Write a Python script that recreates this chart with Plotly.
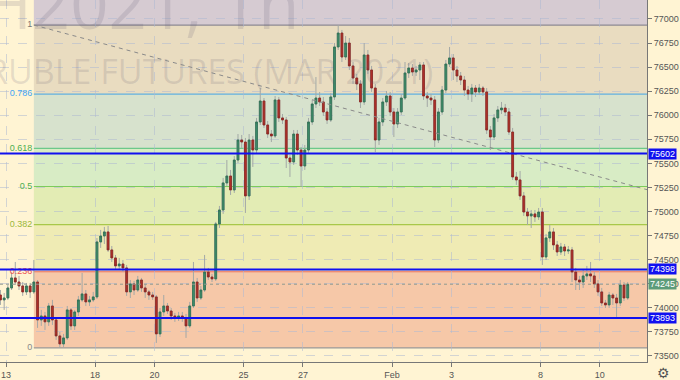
import plotly.graph_objects as go

# ---------------- data ----------------
candles_per_day = 8
first_index = -2  # two last candles of Jan 12

open_ = [74133, 74082, 74102, 74206, 74310, 74268, 74227, 74165, 74227, 74165,
         74268, 73874, 73915, 73854, 74019, 73874, 73708, 73625,
         73687, 73978, 73812, 73957, 74082, 74144, 74061, 74082,
         74113, 74684, 74746, 74788, 74601, 74518, 74435, 74455,
         74414, 74165, 74248, 74185, 74289, 74206, 74165, 74133,
         74113, 73729, 73957, 74019, 73967, 73915, 73895, 73915,
         73895, 73812, 74019, 74268, 74102, 74185, 74372, 74320,
         74300, 74871, 75016, 75297, 75369, 75224, 75535, 75743,
         75722, 75162, 75743, 75639, 75930, 76148, 75899, 75805,
         75785, 76159, 75972, 75951, 75556, 75515, 75805, 75639,
         75473, 75639, 75930, 76117, 76179, 76138, 76034, 75951,
         76190, 76709, 76854, 76605, 76750, 76512, 76387, 76325,
         76138, 76626, 76470, 76283, 75743, 75930, 76138, 76200,
         76034, 75909, 76034, 76179, 76439, 76491, 76449, 76470,
         76522, 76200, 76179, 76159, 75743, 76034, 76262, 76532,
         76595, 76470, 76408, 76366, 76262, 76221, 76283, 76242,
         76283, 76242, 75847, 75774, 75972, 76055, 76075, 76034,
         75826, 75359, 75328, 75162, 74995, 74954, 74975, 74944,
         74995, 74528, 74726, 74788, 74653, 74580, 74632, 74590,
         74601, 74372, 74289, 74268, 74331, 74352, 74331, 74248,
         74165, 74050, 74030, 74133, 74102, 74050, 74237, 74102]

high = [74185, 74154, 74237, 74372, 74476, 74331, 74268, 74258, 74258, 74497,
        74289, 73978, 73957, 74050, 74082, 73895, 73749, 73729,
        74019, 73998, 73978, 74123, 74362, 74185, 74123, 74165,
        74725, 74809, 74840, 74850, 74642, 74549, 74518, 74497,
        74445, 74289, 74279, 74331, 74310, 74248, 74185, 74165,
        74133, 73998, 74133, 74050, 73998, 73947, 73957, 73957,
        73936, 74061, 74476, 74310, 74227, 74549, 74414, 74352,
        74892, 75058, 75349, 75535, 75432, 75577, 75805, 75795,
        75764, 75805, 75785, 75972, 76283, 76179, 75940, 75847,
        76200, 76190, 76013, 75982, 75587, 75847, 75847, 75670,
        75691, 75972, 76159, 76397, 76242, 76190, 76075, 76231,
        76750, 76937, 76886, 76823, 76802, 76553, 76429, 76366,
        76750, 76678, 76512, 76325, 75972, 76179, 76252, 76242,
        76075, 76075, 76221, 76553, 76543, 76532, 76512, 76553,
        76553, 76242, 76221, 76200, 76075, 76304, 76574, 76709,
        76636, 76512, 76449, 76408, 76304, 76325, 76314, 76325,
        76304, 76283, 75888, 76013, 76096, 76138, 76117, 76075,
        75868, 75411, 75421, 75203, 75037, 75016, 75016, 75037,
        75037, 74767, 74860, 74829, 74694, 74674, 74663, 74642,
        74632, 74414, 74331, 74393, 74435, 74476, 74372, 74289,
        74206, 74082, 74165, 74154, 74144, 74289, 74268, 74268]

low = [74030, 73978, 74082, 74185, 74237, 74185, 74123, 74133, 74102, 74144,
       73791, 73812, 73770, 73812, 73822, 73666, 73583, 73593,
       73666, 73770, 73770, 73915, 74061, 74019, 74019, 74061,
       74092, 74622, 74663, 74580, 74476, 74393, 74393, 74372,
       74123, 74102, 74133, 74165, 74165, 74102, 74082, 74082,
       73635, 73697, 73915, 73936, 73874, 73854, 73863, 73854,
       73687, 73791, 73998, 74061, 74082, 74165, 74289, 74268,
       74279, 74829, 74975, 75265, 75172, 75193, 75504, 75660,
       74985, 75120, 75463, 75608, 75899, 75868, 75764, 75722,
       75764, 75930, 75909, 75452, 75359, 75484, 75587, 75255,
       75432, 75608, 75899, 76075, 76096, 75992, 75909, 75930,
       76159, 76678, 76553, 76574, 76470, 76325, 76262, 76075,
       76107, 76429, 76242, 75618, 75691, 75888, 76096, 75992,
       75774, 75868, 76003, 76159, 76387, 76408, 76408, 76366,
       76159, 76086, 76107, 75670, 75712, 76003, 76231, 76501,
       76366, 76345, 76314, 76200, 76159, 76138, 76190, 76210,
       76200, 75805, 75639, 75743, 75930, 76013, 75992, 75795,
       75328, 75276, 75120, 74954, 74860, 74829, 74892, 74912,
       74445, 74497, 74684, 74601, 74538, 74549, 74538, 74559,
       74268, 74185, 74185, 74206, 74289, 74268, 74206, 74123,
       74019, 73998, 73998, 74030, 73905, 74019, 74071, 74082]

close = [74082, 74102, 74206, 74310, 74268, 74227, 74165, 74227, 74165, 74268,
         73874, 73915, 73854, 74019, 73874, 73708, 73625, 73687,
         73978, 73812, 73957, 74082, 74144, 74061, 74082, 74113,
         74684, 74746, 74788, 74601, 74518, 74435, 74455, 74414,
         74165, 74248, 74185, 74289, 74206, 74165, 74133, 74113,
         73729, 73957, 74019, 73967, 73915, 73895, 73915, 73895,
         73812, 74019, 74268, 74102, 74185, 74372, 74320, 74300,
         74871, 75016, 75297, 75369, 75224, 75535, 75743, 75722,
         75162, 75743, 75639, 75930, 76148, 75899, 75805, 75785,
         76159, 75972, 75951, 75556, 75515, 75805, 75639, 75473,
         75639, 75930, 76117, 76179, 76138, 76034, 75951, 76190,
         76709, 76854, 76605, 76750, 76512, 76387, 76325, 76138,
         76626, 76470, 76283, 75743, 75930, 76138, 76200, 76034,
         75909, 76034, 76179, 76439, 76491, 76449, 76470, 76522,
         76200, 76179, 76159, 75743, 76034, 76262, 76532, 76595,
         76470, 76408, 76366, 76262, 76221, 76283, 76242, 76283,
         76242, 75847, 75774, 75972, 76055, 76075, 76034, 75826,
         75359, 75328, 75162, 74995, 74954, 74975, 74944, 74995,
         74528, 74726, 74788, 74653, 74580, 74632, 74590, 74601,
         74372, 74289, 74268, 74331, 74352, 74331, 74248, 74165,
         74050, 74030, 74133, 74102, 74050, 74237, 74102, 74245]

tick_days = [0, 3, 5, 8, 10, 13, 15, 18, 20]
tick_labels = ["13", "18", "20", "25", "27", "Feb", "3", "8", "10"]
price_ticks = [73500, 73750, 74000, 74250, 74500, 74750, 75000, 75250,
               75500, 75750, 76000, 76250, 76500, 76750, 77000]

fib_levels = [0, 0.236, 0.382, 0.5, 0.618, 0.786, 1, 1.618]
fib_labels = ["0", "0.236", "0.382", "0.5", "0.618", "0.786", "1", ""]
fib_start = 7
blue_levels = [75602, 74398, 73893]
last_price = 74245
trend_x = [7, 172.2]
trend_y = [76937, 75227]

x_range = [-2.12, 172.2]
y_range = [73437, 77197]

# ---------------- styling ----------------
bg = "#fff4d3"
band_colors = ["#f6c8a8", "#efebb4", "#e3ecb4", "#d8ecc5", "#d7e2cd", "#e9dcc0", "#d6cbd2"]
level_colors = ["#9a9a9a", "#ec6e5c", "#a8c84a", "#7ccc5c", "#6cc98a", "#5fb0e0", "#8c8a94", "#8c8a94"]
label_colors = ["#8a8a8a", "#ef5350", "#9bb83a", "#4caf50", "#4caf50", "#42a5f5", "#777777", "#777777"]
up_col, down_col = "#3f8f6c", "#b3322a"
wick_col = "#a3a8a6"
font_family = "Liberation Sans"

xs = list(range(first_index, first_index + len(close)))
fib_low, fib_high = min(low), max(high)
fib_prices = [fib_low + f * (fib_high - fib_low) for f in fib_levels]

fig = go.Figure()

# watermark (behind candles)
fig.add_trace(go.Scatter(x=[78.5], y=[77065], mode="text", text=["SiH2021, 1h"],
                         textposition="middle left",
                         textfont=dict(size=67, color="rgba(95,90,115,0.16)", family="Open Sans"),
                         hoverinfo="skip", showlegend=False))
fig.add_trace(go.Scatter(x=[54.5], y=[76408], mode="text", text=["RUBLE FUTURES (MAR 2021)"],
                         textposition="middle center",
                         textfont=dict(size=34, color="rgba(95,90,115,0.16)", family="Open Sans"),
                         hoverinfo="skip", showlegend=False))

# fib labels
for lvl, lab, col, p in zip(fib_levels, fib_labels, label_colors, fib_prices):
    if lab:
        fig.add_trace(go.Scatter(x=[fib_start - 0.4], y=[p], mode="text", text=[lab],
                                 textposition="middle left",
                                 textfont=dict(size=9, color=col, family=font_family),
                                 hoverinfo="skip", showlegend=False))

# trend line
fig.add_trace(go.Scatter(x=trend_x, y=trend_y, mode="lines",
                         line=dict(color="#8a8a8a", width=1, dash="4px,4px"),
                         hoverinfo="skip", showlegend=False))

# wicks
fig.add_trace(go.Candlestick(x=xs, open=open_, high=high, low=low, close=close,
                             increasing=dict(line=dict(color=wick_col, width=1), fillcolor=wick_col),
                             decreasing=dict(line=dict(color=wick_col, width=1), fillcolor=wick_col),
                             whiskerwidth=0, hoverinfo="skip", showlegend=False))
# bodies
body_hi = [max(o, c) for o, c in zip(open_, close)]
body_lo = [min(o, c) for o, c in zip(open_, close)]
fig.add_trace(go.Candlestick(x=xs, open=open_, high=body_hi, low=body_lo, close=close,
                             increasing=dict(line=dict(color="#2f6f52", width=0.8), fillcolor=up_col),
                             decreasing=dict(line=dict(color="#8c2520", width=0.8), fillcolor=down_col),
                             whiskerwidth=0, showlegend=False))

shapes = []
# fib bands
for i in range(len(fib_levels) - 1):
    shapes.append(dict(type="rect", xref="x", yref="y", x0=fib_start, x1=x_range[1] + 5,
                       y0=fib_prices[i], y1=fib_prices[i + 1], fillcolor=band_colors[i],
                       line=dict(width=0), layer="below"))
for p, col in zip(fib_prices[:-1], level_colors):
    shapes.append(dict(type="line", xref="x", yref="y", x0=fib_start, x1=x_range[1] + 5,
                       y0=p, y1=p, line=dict(color=col, width=1.2), layer="below"))
# last price dotted
shapes.append(dict(type="line", xref="paper", yref="y", x0=0, x1=1, y0=last_price, y1=last_price,
                   line=dict(color="#8f9a8f", width=1, dash="dot"), layer="above"))
# blue levels
for p in blue_levels:
    shapes.append(dict(type="line", xref="paper", yref="y", x0=0, x1=1, y0=p, y1=p,
                       line=dict(color="#1010f0", width=2), layer="above"))

annotations = []
for p in blue_levels:
    annotations.append(dict(xref="paper", yref="y", x=1.0, y=p, xanchor="left", yanchor="middle",
                            text=str(p), showarrow=False, bgcolor="#1010f0",
                            font=dict(color="white", size=9, family=font_family),
                            width=27, height=10, borderpad=0, xshift=1))
annotations.append(dict(xref="paper", yref="y", x=1.0, y=last_price, xanchor="left", yanchor="middle",
                        text=str(last_price), showarrow=False, bgcolor="#5c9c7a",
                        font=dict(color="white", size=9, family=font_family),
                        width=27, height=10, borderpad=0, xshift=1))
annotations.append(dict(xref="paper", yref="paper", x=1.0, y=0, xanchor="left", yanchor="top",
                        text="⚙", showarrow=False, xshift=8, yshift=-1,
                        font=dict(color="#555555", size=14, family="DejaVu Sans")))

fig.update_layout(
    width=680, height=380,
    margin=dict(l=0, r=33, t=0, b=18),
    paper_bgcolor=bg, plot_bgcolor=bg,
    shapes=shapes, annotations=annotations,
    showlegend=False,
    font=dict(family=font_family, size=9, color="#555555"),
)
fig.update_xaxes(range=x_range, rangeslider=dict(visible=False),
                 tickmode="array",
                 tickvals=[d * candles_per_day - 0.5 for d in tick_days], ticktext=tick_labels,
                 showgrid=True, gridcolor="rgba(175,185,210,0.55)", griddash="dash", gridwidth=1,
                 ticks="outside", ticklen=4, tickcolor="#777777",
                 showline=True, linecolor="#777777", linewidth=1, zeroline=False,
                 tickfont=dict(size=9, color="#555555"))
fig.update_yaxes(range=y_range, side="right", tickmode="array", tickvals=price_ticks, tickformat="d",
                 showgrid=True, gridcolor="rgba(175,185,210,0.55)", griddash="dash", gridwidth=1,
                 ticks="outside", ticklen=4, tickcolor="#777777",
                 showline=True, linecolor="#777777", linewidth=1, zeroline=False,
                 tickfont=dict(size=9, color="#555555"))

fig.write_html("out.html")
